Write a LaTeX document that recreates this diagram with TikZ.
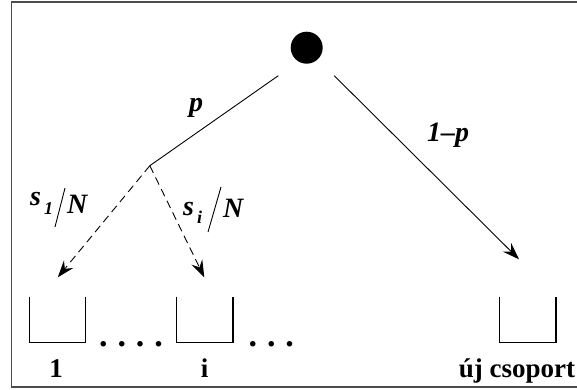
\documentclass[tikz,border=0pt]{standalone}
\usepackage{fontspec}
\setmainfont{Liberation Serif}
\usetikzlibrary{arrows.meta}
\begin{document}
\begin{tikzpicture}[x=1pt,y=-1pt,
  conn/.style={line width=0.9pt, line cap=butt},
  tipped/.style={-{Stealth[length=17pt,width=12pt,inset=6pt]}},
  dashconn/.style={conn, dash pattern=on 8pt off 5pt},
  lbl/.style={font=\fontsize{28}{28}\selectfont\bfseries\itshape, inner sep=0},
  sublbl/.style={font=\fontsize{18}{18}\selectfont\bfseries\itshape, inner sep=0},
  namelbl/.style={font=\fontsize{27}{27}\selectfont\bfseries, inner sep=0, anchor=base},
  dotlbl/.style={font=\fontsize{34}{34}\selectfont\bfseries, inner sep=0, anchor=base west},
  bin/.style={minimum width=56pt, minimum height=45.6pt, inner sep=0, draw=none},
  binline/.style={line width=1.1pt},
  slash/.style={line width=0.9pt}]
\useasboundingbox (0,0) rectangle (577,390);
% frame
\draw[line width=1.3pt, draw=black!70] (590,2) -- (11.5,2) -- (11.5,387) -- (590,387);
% root
\node[circle, fill=black, minimum width=32pt, minimum height=32pt, inner sep=0] (root) at (306.7,47.7) {};
\coordinate (ls) at (278.3,75.7);
\coordinate (rs) at (334.2,75.7);
\coordinate (split) at (149.8,165.7);
\coordinate (t1) at (57.8,277.3);
\coordinate (ti) at (204.3,277.3);
\coordinate (tn) at (519,259.3);
% bins
\node[bin] (b1) at (57.4,319.5) {};
\node[bin] (bi) at (204.8,319.5) {};
\node[bin] (bn) at (527.8,319.5) {};
\foreach \b in {b1,bi,bn}
  \draw[binline] (\b.north west) -- (\b.south west) -- (\b.south east) -- (\b.north east);
% connectors
\draw[conn] (ls) -- (split);
\draw[conn, tipped] (rs) -- (tn);
\draw[dashconn, tipped] (split) -- (t1);
\draw[dashconn, tipped] (split) -- (ti);
% branch labels
\node[lbl, anchor=base] (lp) at (196,112) {p};
\node[lbl, anchor=base] (lq) at (448,142) {1--p};
\node[lbl, anchor=base west] (s1) at (30,205) {s};
\node[sublbl, anchor=base west] (s1sub) at (44,214) {1};
\draw[slash] (55,227) -- (65,188);
\node[lbl, anchor=base west] (n1) at (67,213) {N};
\node[lbl, anchor=base west] (si) at (183,215) {s};
\node[sublbl, anchor=base west] (sisub) at (197,223) {i};
\draw[slash] (208,232) -- (221,187);
\node[lbl, anchor=base west] (ni) at (223,217) {N};
% bin labels
\node[namelbl] (l1) at (56,377) {1};
\node[namelbl] (li) at (204.5,377) {i};
\node[namelbl] (ln) at (517,377) {új csoport};
\node[dotlbl] (d1) at (99,346) {.\hspace{9.9pt}.\hspace{9.9pt}.\hspace{9.9pt}.};
\node[dotlbl] (d2) at (248.5,346) {.\hspace{9.9pt}.\hspace{9.9pt}.};
\end{tikzpicture}
\end{document}
